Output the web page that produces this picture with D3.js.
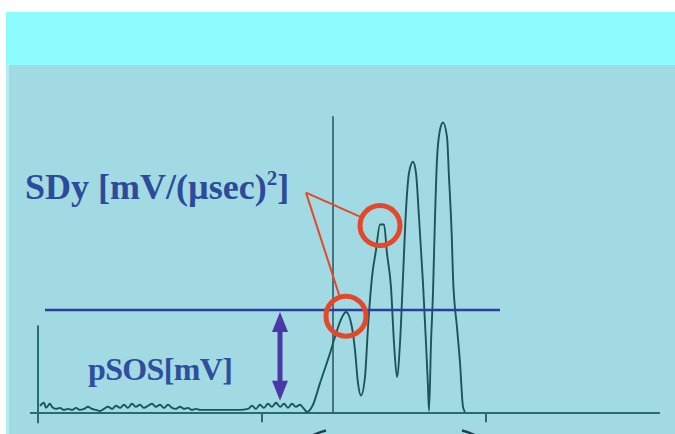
<!DOCTYPE html>
<html lang="en">
<head>
    <meta charset="UTF-8">
    <title>pSOS and SDy</title>
    <script src="https://d3js.org/d3.v7.min.js"></script>
    <style>
        body {
            margin: 0;
            background-color: #ffffff;
        }
        svg {
            display: block;
        }
    </style>
</head>
<body>
    <div id="chart"></div>
    <script>
        // Trace: sample index and amplitude in mV
        const sampleIdx = [1, 3, 4, 6, 7, 9, 11, 13, 15, 17, 19, 21, 23, 25, 27, 29, 31, 33, 35, 37,
            39, 41, 43, 45, 47, 49, 51, 53, 55, 57, 59, 61, 63, 65, 67, 69, 71, 73, 75, 77, 79, 81,
            86, 91, 96, 101, 105, 107, 109, 111, 113, 115, 117, 119, 121, 123, 125, 127, 129, 131, 133,
            134.5, 137.5, 141, 146, 148.5, 152, 154, 157, 158.5, 160, 161.5, 163.5, 165, 167, 169, 171, 173,
            174.5, 176.5, 178, 179.5, 181, 182.5, 184, 185.5, 187.5, 189, 190.5, 192.5, 194, 195, 195.5,
            196.5, 197.5, 198.5, 199.5, 201, 202.5, 204.5, 205.5, 207, 207.5, 209.5, 211, 212.5, 213.5];
        const amplitude = [0.07, 0.10, 0.05, 0.09, 0.06, 0.04, 0.05, 0.03, 0.04, 0.03, 0.05, 0.03, 0.04, 0.06, 0.04, 0.03, 0.02, 0.04, 0.06, 0.04,
            0.07, 0.05, 0.08, 0.05, 0.09, 0.06, 0.08, 0.05, 0.07, 0.09, 0.06, 0.08, 0.05, 0.08, 0.05, 0.04, 0.06, 0.04, 0.05, 0.03, 0.04, 0.03,
            0.03, 0.03, 0.03, 0.03, 0.04, 0.07, 0.04, 0.08, 0.05, 0.09, 0.06, 0.10, 0.06, 0.09, 0.05, 0.09, 0.06, 0.08, 0.04,
            0.01, 0.08, 0.29, 0.58, 0.74, 0.93, 0.98, 0.83, 0.61, 0.29, 0.17, 0.35, 0.83, 1.32, 1.58, 1.83, 1.83,
            1.55, 1.22, 0.68, 0.35, 0.68, 1.32, 1.97, 2.33, 2.44, 2.33, 1.90, 1.26, 0.68, 0.25, 0.02,
            0.68, 1.17, 1.90, 2.46, 2.75, 2.82, 2.68, 2.29, 1.65, 1.32, 0.83, 0.49, 0.06, 0.01];

        // Reference levels
        const pSOS = 1.0;                 // mV
        const pSOSRange = [3.5, 231];      // samples spanned by the pSOS line
        const arrowRange = [0.12, 0.98];   // double arrow extent, mV
        const arrowSample = 121;
        const onsetSample = 147.5;         // vertical marker
        const onsetTop = 2.88;
        const tickSamples = [112, 224];
        const leftAxisTop = 0.85;

        // Highlighted peaks (SDy)
        const peakSamples = [154, 171];
        const peakValues = [0.94, 1.82];
        const labelAnchor = [134, 2.14];

        const W = 675, H = 434;
        const svg = d3.select("#chart").append("svg")
            .attr("width", W)
            .attr("height", H);

        // Background blocks
        svg.append("rect").attr("x", 6).attr("y", 12).attr("width", W - 6).attr("height", 54)
            .attr("fill", "#8dfcfc");
        svg.append("rect").attr("x", 6).attr("y", 65).attr("width", W - 6).attr("height", H - 65)
            .attr("fill", "#a1dae3");
        svg.append("rect").attr("x", 6).attr("y", 65).attr("width", 3).attr("height", H - 65)
            .attr("fill", "#b4ecf4");

        const x = d3.scaleLinear().domain([0, 311]).range([38, 660]);
        const y = d3.scaleLinear().domain([0, 1]).range([413, 310]);

        const axisColor = "#2b6b6e";

        // Baseline
        svg.append("line")
            .attr("x1", x(-4)).attr("x2", x(311))
            .attr("y1", y(0)).attr("y2", y(0))
            .attr("stroke", axisColor).attr("stroke-width", 2.2);

        // Left axis
        svg.append("line")
            .attr("x1", x(0)).attr("x2", x(0))
            .attr("y1", y(leftAxisTop)).attr("y2", y(-0.1))
            .attr("stroke", axisColor).attr("stroke-width", 2);

        // Ticks below baseline
        svg.selectAll(".tick")
            .data(tickSamples)
            .enter().append("line")
            .attr("class", "tick")
            .attr("x1", d => x(d)).attr("x2", d => x(d))
            .attr("y1", y(0)).attr("y2", y(-0.09))
            .attr("stroke", axisColor).attr("stroke-width", 2);

        // Onset vertical line
        svg.append("line")
            .attr("x1", x(onsetSample)).attr("x2", x(onsetSample))
            .attr("y1", y(onsetTop)).attr("y2", y(0))
            .attr("stroke", "#2d5c60").attr("stroke-width", 1.6);

        // Signal trace
        const trace = sampleIdx.map((s, i) => [s, amplitude[i]]);
        const line = d3.line()
            .x(d => x(d[0]))
            .y(d => y(d[1]))
            .curve(d3.curveMonotoneX);

        svg.append("path")
            .datum(trace)
            .attr("fill", "none")
            .attr("stroke", "#1d5457")
            .attr("stroke-width", 1.9)
            .attr("d", line);

        // Bottom arrowheads (cut off by the frame)
        svg.append("path")
            .attr("d", `M${x(144)},${y(-0.17)} Q${x(140)},${y(-0.19)} ${x(137)},${y(-0.22)}`)
            .attr("fill", "none").attr("stroke", "#1f3f55").attr("stroke-width", 2.5);
        svg.append("path")
            .attr("d", `M${x(212)},${y(-0.17)} Q${x(216)},${y(-0.19)} ${x(219)},${y(-0.22)}`)
            .attr("fill", "none").attr("stroke", "#1f3f55").attr("stroke-width", 2.5);

        // pSOS level line
        svg.append("line")
            .attr("x1", x(pSOSRange[0])).attr("x2", x(pSOSRange[1]))
            .attr("y1", y(pSOS)).attr("y2", y(pSOS))
            .attr("stroke", "#2b3f9c").attr("stroke-width", 2.6);

        // Double arrow for pSOS amplitude
        const arrowColor = "#4a38a6";
        const ax = x(arrowSample), aTop = y(arrowRange[1]), aBot = y(arrowRange[0]);
        svg.append("line")
            .attr("x1", ax).attr("x2", ax)
            .attr("y1", aTop + 14).attr("y2", aBot - 14)
            .attr("stroke", arrowColor).attr("stroke-width", 5);
        svg.append("path")
            .attr("d", `M${ax},${aTop} L${ax - 8},${aTop + 20} L${ax + 8},${aTop + 20} Z`)
            .attr("fill", arrowColor);
        svg.append("path")
            .attr("d", `M${ax},${aBot} L${ax - 8},${aBot - 20} L${ax + 8},${aBot - 20} Z`)
            .attr("fill", arrowColor);

        // Red call-out lines and circles
        const r = 20;
        const red = "#e5472a";
        const lx = x(labelAnchor[0]), ly = y(labelAnchor[1]);
        peakSamples.forEach((s, i) => {
            const cx = x(s), cy = y(peakValues[i]);
            const dx = cx - lx, dy = cy - ly;
            const dist = Math.sqrt(dx * dx + dy * dy);
            svg.append("line")
                .attr("x1", lx).attr("y1", ly)
                .attr("x2", cx - dx / dist * (r + 2)).attr("y2", cy - dy / dist * (r + 2))
                .attr("stroke", red).attr("stroke-width", 2);
        });
        svg.selectAll(".peak")
            .data(peakSamples)
            .enter().append("circle")
            .attr("class", "peak")
            .attr("cx", d => x(d))
            .attr("cy", (d, i) => y(peakValues[i]))
            .attr("r", r)
            .attr("fill", "none")
            .attr("stroke", red)
            .attr("stroke-width", 5);

        // Labels
        const sdy = svg.append("text")
            .attr("x", 25).attr("y", 199)
            .attr("font-family", "'Liberation Serif', 'Times New Roman', serif")
            .attr("font-weight", "bold")
            .attr("font-size", 36)
            .attr("fill", "#2c4c9a");
        sdy.append("tspan").text("SDy [mV/(\u00b5sec)");
        sdy.append("tspan").attr("font-size", 21).attr("dy", -14).text("2");
        sdy.append("tspan").attr("dy", 14).text("]");

        svg.append("text")
            .attr("x", 88).attr("y", 380)
            .attr("font-family", "'Liberation Serif', 'Times New Roman', serif")
            .attr("font-weight", "bold")
            .attr("font-size", 32)
            .attr("textLength", 145)
            .attr("fill", "#2f4e9c")
            .text("pSOS[mV]");
    </script>
</body>
</html>
